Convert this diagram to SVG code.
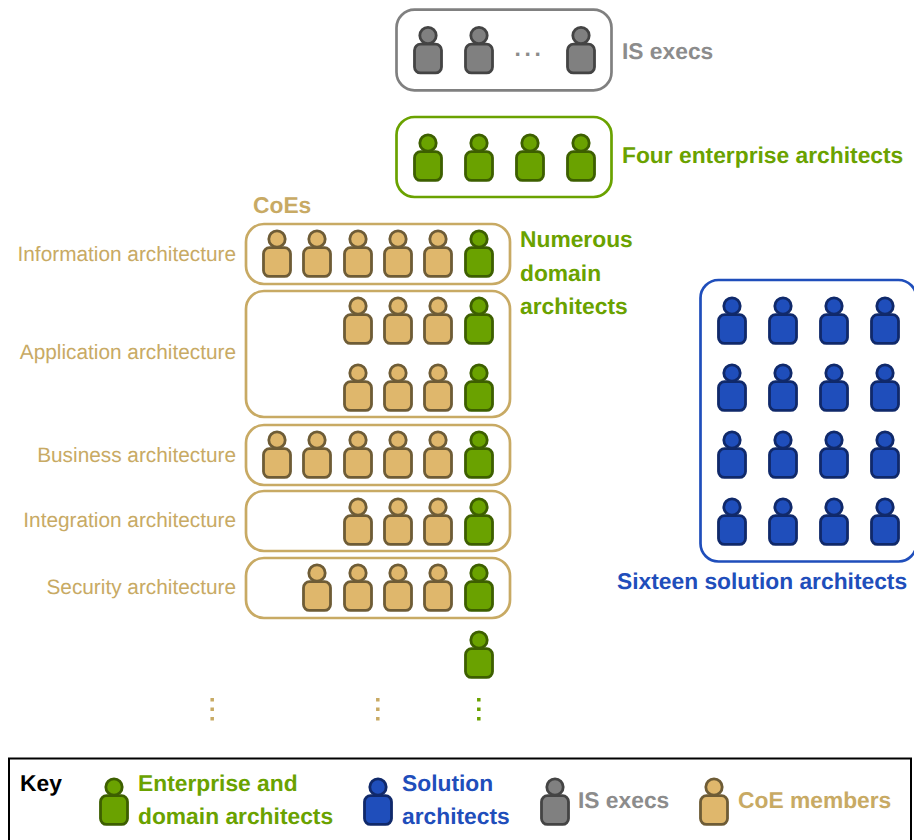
<svg xmlns="http://www.w3.org/2000/svg" width="914" height="840" viewBox="0 0 914 840">
<style>
text{font-family:"Liberation Sans",Arial,sans-serif;text-rendering:geometricPrecision}
.b{font-weight:bold;font-size:22.8px}
.l{font-size:20.8px;fill:#c8aa64;text-anchor:end}
.box{fill:#fff;stroke-width:2.700}
.gy{fill:#808080;stroke:#444;}
.gn{fill:#6aa200;stroke:#3d5f00;}
.bl{fill:#1f4ebb;stroke:#10296a;}
.co{fill:#dfb76c;stroke:#6e5c36;}
.tgy{fill:#8c8c8c}.tgn{fill:#6aa200}.tbl{fill:#1f4ebb}.tco{fill:#c8aa64}
.d{stroke-width:3.500;fill:none;stroke-dasharray:3.500 6}
</style>
<defs>
<g id="p" stroke-width="2.800"><rect x="-13.500" y="8.700" width="27" height="28.700" rx="6"/><circle cx="0" cy="0" r="8.200"/></g>
</defs>
<rect width="914" height="840" fill="#fff"/>
<g id="connectors"/>
<g id="is-execs">
<rect class="box" x="396.500" y="9.700" width="215" height="80.600" rx="18" stroke="#808080"/>
<g class="gy"><use href="#p" x="428" y="35.500"/><use href="#p" x="479" y="35.500"/><use href="#p" x="581" y="35.500"/></g>
<text x="514.500" y="56" font-size="22.800" font-weight="bold" fill="#8c8c8c" letter-spacing="3.700">...</text>
<text class="b tgy" x="622" y="59">IS execs</text>
</g>
<g id="enterprise">
<rect class="box" x="396.500" y="117" width="215" height="80" rx="18" stroke="#6aa200"/>
<g class="gn"><use href="#p" x="428" y="143"/><use href="#p" x="479" y="143"/><use href="#p" x="530" y="143"/><use href="#p" x="581" y="143"/></g>
<text class="b tgn" x="622" y="163">Four enterprise architects</text>
</g>
<g id="coes">
<text class="b tco" x="253" y="213">CoEs</text>
<text class="b tgn" x="520" y="247">Numerous</text>
<text class="b tgn" x="520" y="281">domain</text>
<text class="b tgn" x="520" y="314">architects</text>
</g>
<g id="information">
<rect class="box" x="246" y="224" width="264" height="60" rx="18" stroke="#c8aa64"/>
<g class="co"><use href="#p" x="277" y="239"/><use href="#p" x="317" y="239"/><use href="#p" x="358" y="239"/><use href="#p" x="398" y="239"/><use href="#p" x="438" y="239"/></g>
<use class="gn" href="#p" x="479" y="239"/>
<text class="l" x="236" y="261">Information architecture</text>
</g>
<g id="application">
<rect class="box" x="246" y="291" width="264" height="126" rx="18" stroke="#c8aa64"/>
<g class="co"><use href="#p" x="358" y="306"/><use href="#p" x="398" y="306"/><use href="#p" x="438" y="306"/><use href="#p" x="358" y="373"/><use href="#p" x="398" y="373"/><use href="#p" x="438" y="373"/></g>
<g class="gn"><use href="#p" x="479" y="306"/><use href="#p" x="479" y="373"/></g>
<text class="l" x="236" y="359">Application architecture</text>
</g>
<g id="business">
<rect class="box" x="246" y="425" width="264" height="60" rx="18" stroke="#c8aa64"/>
<g class="co"><use href="#p" x="277" y="440"/><use href="#p" x="317" y="440"/><use href="#p" x="358" y="440"/><use href="#p" x="398" y="440"/><use href="#p" x="438" y="440"/></g>
<use class="gn" href="#p" x="479" y="440"/>
<text class="l" x="236" y="462">Business architecture</text>
</g>
<g id="integration">
<rect class="box" x="246" y="491" width="264" height="60" rx="18" stroke="#c8aa64"/>
<g class="co"><use href="#p" x="358" y="507"/><use href="#p" x="398" y="507"/><use href="#p" x="438" y="507"/></g>
<use class="gn" href="#p" x="479" y="507"/>
<text class="l" x="236" y="527">Integration architecture</text>
</g>
<g id="security">
<rect class="box" x="246" y="558" width="264" height="60" rx="18" stroke="#c8aa64"/>
<g class="co"><use href="#p" x="317" y="573"/><use href="#p" x="358" y="573"/><use href="#p" x="398" y="573"/><use href="#p" x="438" y="573"/></g>
<use class="gn" href="#p" x="479" y="573"/>
<text class="l" x="236" y="594">Security architecture</text>
</g>
<g id="others">
<use class="gn" href="#p" x="479" y="640"/>
<path class="d" d="M212.200 698V722" stroke="#c8aa64"/>
<path class="d" d="M377.800 698V722" stroke="#c8aa64"/>
<path class="d" d="M478.800 698V722" stroke="#6aa200"/>
</g>
<g id="solution">
<rect class="box" x="700.500" y="280" width="216" height="281.500" rx="18" stroke="#1f4ebb"/>
<g class="bl">
<use href="#p" x="732" y="306"/><use href="#p" x="783" y="306"/><use href="#p" x="834" y="306"/><use href="#p" x="885" y="306"/>
<use href="#p" x="732" y="373"/><use href="#p" x="783" y="373"/><use href="#p" x="834" y="373"/><use href="#p" x="885" y="373"/>
<use href="#p" x="732" y="440"/><use href="#p" x="783" y="440"/><use href="#p" x="834" y="440"/><use href="#p" x="885" y="440"/>
<use href="#p" x="732" y="507"/><use href="#p" x="783" y="507"/><use href="#p" x="834" y="507"/><use href="#p" x="885" y="507"/>
</g>
<text class="b tbl" x="617" y="589">Sixteen solution architects</text>
</g>
<g id="key">
<rect x="9" y="758.500" width="902" height="90" fill="#fff" stroke="#000" stroke-width="2"/>
<text x="20" y="791" font-size="22.800" font-weight="bold" fill="#000">Key</text>
<use class="gn" href="#p" x="114" y="787"/>
<text class="b tgn" x="138" y="791">Enterprise and</text>
<text class="b tgn" x="138" y="824">domain architects</text>
<use class="bl" href="#p" x="378" y="787"/>
<text class="b tbl" x="402" y="791">Solution</text>
<text class="b tbl" x="402" y="824">architects</text>
<use class="gy" href="#p" x="555" y="787"/>
<text class="b tgy" x="578" y="808">IS execs</text>
<use class="co" href="#p" x="714" y="787"/>
<text class="b tco" x="738" y="808">CoE members</text>
</g>
</svg>
